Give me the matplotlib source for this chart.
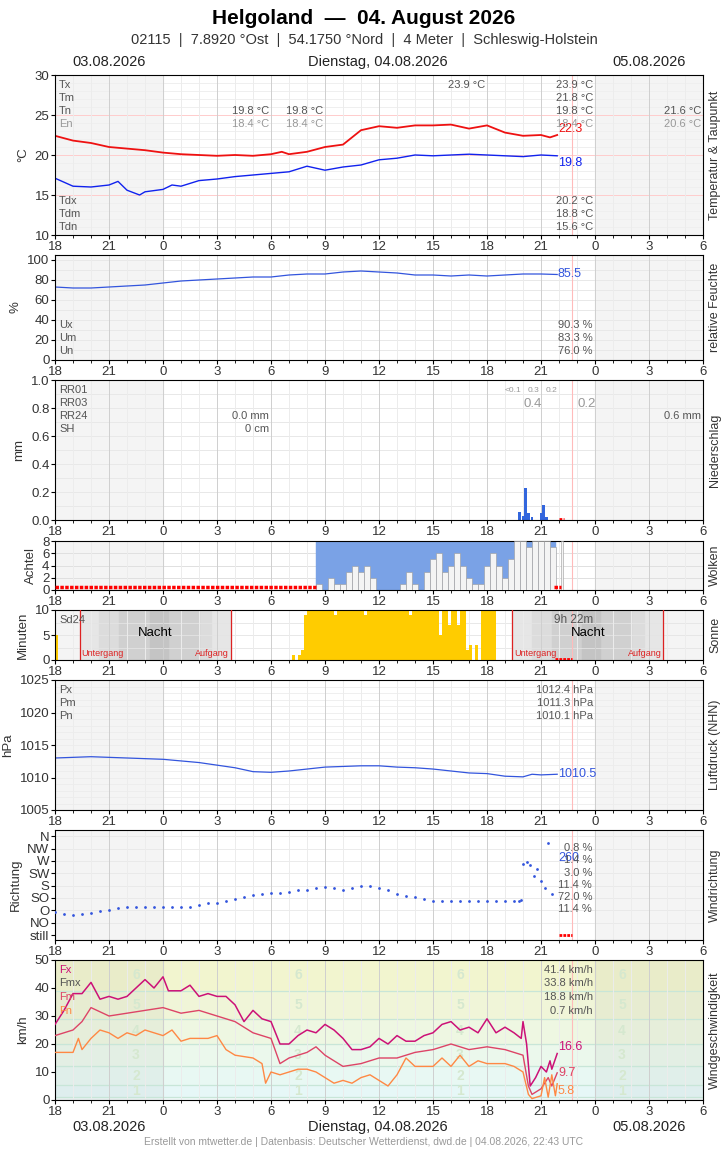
import matplotlib.pyplot as plt
import numpy as np

plt.rcParams['font.family'] = ['Liberation Sans', 'DejaVu Sans']

# x = hours since 03.08. 18:00
temp_h = [0, 1, 2, 3, 4, 5, 6, 7, 8, 9, 10, 11, 12, 12.6, 13, 14, 15, 16, 17, 18, 19, 20, 21, 22, 23, 24, 25, 26, 27, 27.5, 27.9]
temp = [22.4, 21.8, 21.5, 21.0, 20.8, 20.6, 20.3, 20.1, 20.0, 19.9, 20.0, 19.9, 20.1, 20.4, 20.1, 20.4, 21.0, 21.3, 23.1, 23.6, 23.4, 23.7, 23.7, 23.8, 23.3, 23.7, 22.8, 22.4, 22.5, 22.2, 22.5]
dew_h = [0, 1, 2, 3, 3.5, 4, 4.7, 5, 6, 6.5, 7, 8, 9, 10, 11, 12, 13, 14, 15, 16, 17, 18, 19, 20, 21, 22, 23, 24, 25, 26, 27, 27.9]
dew = [17.1, 16.1, 16.0, 16.25, 16.7, 15.6, 15.0, 15.4, 15.7, 16.25, 16.1, 16.8, 17.0, 17.3, 17.5, 17.7, 17.9, 18.6, 18.1, 18.5, 18.75, 19.4, 19.6, 20.0, 19.9, 20.0, 20.1, 20.0, 19.9, 19.8, 20.0, 19.9]

hum_h = [0, 1, 2, 3, 4, 5, 6, 7, 8, 9, 10, 11, 12, 13, 14, 15, 16, 17, 18, 19, 20, 21, 22, 23, 24, 25, 26, 27, 27.9]
hum = [73, 72, 72, 73, 74, 75, 77, 79, 80, 81, 82, 83, 83, 85, 86, 86, 88, 89, 88, 87, 85, 85, 84, 85, 84, 85, 86, 86, 85.5]

rain_h = [25.75, 25.92, 26.08, 26.25, 26.42, 26.92, 27.08, 27.25]
rain = [0.06, 0.03, 0.23, 0.05, 0.02, 0.05, 0.11, 0.02]

cloud_h = list(np.arange(14.5, 27.7, 1 / 3))
cloud_total = [8] * len(cloud_h)
cloud_low = [1, 0, 2, 1, 1, 3, 4, 3, 4, 2, 0, 0, 0, 0, 1, 3, 1, 0, 3, 5, 6, 3, 4, 6, 4, 2, 1, 1, 4, 6, 4, 2, 5, 8, 8, 7, 8, 8, 8, 7][:len(cloud_h)]

sun_h = list(np.arange(13.0, 25.0, 1 / 6))
sun = [0, 1, 0, 1, 2, 9,
       10, 10, 10, 10, 10, 10,
       10, 10, 10, 9, 10, 10,
       10, 10, 10, 10, 10, 10,
       10, 9, 10, 10, 10, 10,
       10, 10, 10, 10, 10, 10,
       10, 10, 10, 10, 9, 10,
       10, 10, 10, 10, 10, 10,
       10, 10, 5, 10, 10, 7,
       10, 10, 7, 10, 10, 2,
       3, 0, 3, 0, 10, 10,
       10, 10, 10, 0, 0, 0]

pres_h = [0, 2, 4, 6, 8, 10, 11, 12, 13, 14, 15, 16, 17, 18, 19, 20, 21, 22, 23, 24, 25, 26, 26.5, 27, 27.9]
pres = [1013.0, 1013.2, 1013.0, 1012.8, 1012.3, 1011.5, 1010.9, 1010.8, 1011.0, 1011.3, 1011.6, 1011.7, 1011.8, 1011.8, 1011.6, 1011.5, 1011.3, 1011.0, 1010.7, 1010.6, 1010.2, 1010.1, 1010.5, 1010.4, 1010.5]

dir_h = list(np.arange(0, 25.6, 0.5)) + [25.8, 25.9, 26.0, 26.2, 26.4, 26.6, 26.8, 27.0, 27.2, 27.4, 27.6]
wdir = [84, 76, 73, 76, 80, 88, 91, 100, 103, 103, 103, 103, 103, 103, 103, 103, 110, 117, 117, 125, 132, 140, 145, 150, 154, 154, 158, 163, 165, 172, 175, 172, 165, 170, 178, 180, 172, 165, 150, 143, 140, 130, 124, 124, 124, 124, 124, 124, 124, 124, 124, 124,
        124, 128, 258, 265, 255, 215, 240, 195, 170, 335, 150]

wind_h = [0, 0.5, 1, 1.5, 2, 2.5, 3, 3.5, 4, 4.5, 5, 5.5, 6, 6.3, 7, 7.5, 8, 8.5, 9, 9.5, 10, 10.5, 11, 11.5, 12, 12.5, 13, 13.5, 14, 14.5, 15, 15.5, 16, 16.5, 17, 17.5, 18, 18.5, 19, 19.5, 20, 20.5, 21, 21.5, 22, 22.5, 23, 23.5, 24, 24.5, 25, 25.5, 25.9, 26.0, 26.2, 26.4, 26.7, 27.0, 27.3, 27.5, 27.6, 27.9]
fx = [27, 32, 38, 38, 42, 36, 37, 36, 37, 40, 43, 40, 44, 39, 39, 41, 37, 38, 37, 37, 34, 28, 32, 29, 28, 20, 20, 23, 25, 24, 27, 25, 22, 18, 18, 19, 22, 20, 23, 21, 21, 23, 24, 27, 28, 25, 26, 24, 29, 24, 26, 24, 22, 28, 20, 5, 8, 12, 10, 14, 11, 16.6]
fm_h = [0, 1, 1.5, 2, 3, 4, 5, 6, 7, 8, 9, 10, 11, 12, 12.5, 13, 14, 14.5, 15, 16, 17, 18, 19, 20, 21, 22, 23, 24, 25, 25.5, 26, 26.3, 26.5, 27, 27.4, 27.6, 27.9]
fm = [23, 25, 28, 33, 30, 31, 32, 33, 31, 32, 30, 28, 24, 22, 13, 15, 17, 19, 16, 12, 13, 15, 15, 17, 18, 20, 18, 19, 18, 17, 16, 5, 2, 4, 8, 5, 9.7]
fn_h = [0, 1, 1.3, 1.5, 2, 2.5, 3, 3.5, 4, 4.5, 5, 5.5, 6, 6.5, 7, 7.5, 8, 8.5, 9, 9.5, 10, 11, 11.5, 11.7, 12, 12.5, 13, 13.5, 14, 14.5, 15, 15.5, 16, 16.5, 17, 17.5, 18, 18.5, 19, 19.5, 20, 21, 21.5, 22, 22.5, 23, 23.5, 24, 25, 25.5, 26, 26.3, 26.5, 27, 27.2, 27.4, 27.6, 27.8, 27.9]
fn = [17, 17, 22, 18, 22, 25, 24, 22, 24, 23, 25, 24, 23, 25, 21, 22, 22, 22, 23, 18, 16, 15, 13, 6, 10, 9, 10, 11, 11, 10, 8, 6, 7, 6, 8, 9, 7, 5, 9, 15, 12, 12, 15, 12, 16, 12, 14, 13, 13, 12, 10, 2, 0.5, 1.5, 8, 1, 9, 1.5, 5.8]

hour_labels = ['18', '21', '0', '3', '6', '9', '12', '15', '18', '21', '0', '3', '6']

W, H = 728, 1150
fig = plt.figure(figsize=(W / 100, H / 100), dpi=100)
GREY = '#555555'
NOW = 28.72


def panel(top, bot, ylim, yticks, yticklabels, ylabel, rlabel, shade=True):
    ax = fig.add_axes([55 / W, 1 - bot / H, 648 / W, (bot - top) / H])
    ax.set_xlim(0, 36)
    ax.set_ylim(*ylim)
    if shade:
        ax.axvspan(0, 6, color='#f4f4f4', zorder=0)
        ax.axvspan(30, 36, color='#f4f4f4', zorder=0)
    for h in range(37):
        ax.axvline(h, color='#cfcfcf' if h % 3 == 0 else '#ececec', lw=0.7, zorder=0.5)
    ax.axvline(NOW, color='#ffbbbb', lw=0.8, zorder=0.6)
    ax.set_xticks(range(0, 37, 3))
    ax.set_xticks(range(37), minor=True)
    ax.set_xticklabels(hour_labels, fontsize=9.5, color='#333')
    ax.set_yticks(yticks)
    ax.set_yticklabels(yticklabels, fontsize=9.5, color='#333')
    ax.tick_params(length=3, pad=1)
    ax.tick_params(which='minor', length=2)
    ax.set_ylabel(ylabel, fontsize=9.5, color='#333', labelpad=4)
    fig.text(715 / W, 1 - (top + bot) / 2 / H, rlabel, rotation=90, ha='center', va='center', fontsize=9, color='#333')
    return ax


def txt(ax, px, py, s, ha='left', color=GREY, size=8):
    fig.text(px / W, 1 - py / H, s, ha=ha, va='center', fontsize=size, color=color)


# title
fig.text(0.5, 1 - 18 / H, 'Helgoland  \u2014  04. August 2026', ha='center', va='center', fontsize=15, weight='bold')
fig.text(0.5, 1 - 40 / H, '02115  |  7.8920 °Ost  |  54.1750 °Nord  |  4 Meter  |  Schleswig-Holstein', ha='center', va='center', fontsize=10.5, color='#333')
for y in (62, 1127):
    txt(None, 109, y, '03.08.2026', 'center', '#222', 10.5)
    txt(None, 378, y, 'Dienstag, 04.08.2026', 'center', '#222', 10.5)
    txt(None, 649, y, '05.08.2026', 'center', '#222', 10.5)
fig.text(0.5, 1 - 1142 / H, 'Erstellt von mtwetter.de | Datenbasis: Deutscher Wetterdienst, dwd.de | 04.08.2026, 22:43 UTC', ha='center', va='center', fontsize=7.5, color='#999')

# temperature
ax = panel(75, 235, (10, 30), [10, 15, 20, 25, 30], ['10', '15', '20', '25', '30'], '°C', 'Temperatur & Taupunkt')
for v in range(11, 30):
    ax.axhline(v, color='#ffcccc' if v % 5 == 0 else '#efefef', lw=0.7, zorder=0.4)
ax.plot(temp_h, temp, color='#ee1111', lw=1.3)
ax.plot(dew_h, dew, color='#1122ee', lw=1.0)
txt(ax, 558, 129, '22.3', color='#ee1111', size=9)
txt(ax, 558, 163, '19.8', color='#1122ee', size=9)
for i, (l, v) in enumerate([('Tx', '23.9 °C'), ('Tm', '21.8 °C'), ('Tn', '19.8 °C'), ('En', '18.4 °C')]):
    txt(ax, 59, 85 + 13 * i, l, color=GREY if l != 'En' else '#999')
    txt(ax, 593, 85 + 13 * i, v, 'right', GREY if l != 'En' else '#999')
for i, (l, v) in enumerate([('Tdx', '20.2 °C'), ('Tdm', '18.8 °C'), ('Tdn', '15.6 °C')]):
    txt(ax, 59, 201 + 13 * i, l)
    txt(ax, 593, 201 + 13 * i, v, 'right')
txt(ax, 485, 85, '23.9 °C', 'right')
for px in (269, 323):
    txt(ax, px, 111, '19.8 °C', 'right')
    txt(ax, px, 124, '18.4 °C', 'right', '#999')
txt(ax, 701, 111, '21.6 °C', 'right')
txt(ax, 701, 124, '20.6 °C', 'right', '#999')

# humidity
ax = panel(255, 360, (0, 105), [0, 20, 40, 60, 80, 100], ['0', '20', '40', '60', '80', '100'], '%', 'relative Feuchte')
for v in range(10, 101, 10):
    ax.axhline(v, color='#e8e8e8', lw=0.7, zorder=0.4)
ax.plot(hum_h, hum, color='#3355dd', lw=0.9)
txt(ax, 558, 274, '85.5', color='#3355dd', size=9)
for i, (l, v) in enumerate([('Ux', '90.3 %'), ('Um', '83.3 %'), ('Un', '76.0 %')]):
    txt(ax, 59, 325 + 13 * i, l)
    txt(ax, 593, 325 + 13 * i, v, 'right')

# precipitation
ax = panel(380, 520, (0, 1.0), [0, 0.2, 0.4, 0.6, 0.8, 1.0], ['0.0', '0.2', '0.4', '0.6', '0.8', '1.0'], 'mm', 'Niederschlag')
for v in np.arange(0.1, 1.0, 0.1):
    ax.axhline(v, color='#e8e8e8', lw=0.7, zorder=0.4)
ax.bar(rain_h, rain, width=1 / 6 * 0.9, align='edge', color='#3366dd', zorder=2)
ax.plot([28.0, 28.3], [0.01, 0.01], color='red', lw=2, ls=(0, (1, 0.5)))
for i, l in enumerate(['RR01', 'RR03', 'RR24', 'SH']):
    txt(ax, 59, 390 + 13 * i, l)
txt(ax, 269, 416, '0.0 mm', 'right')
txt(ax, 269, 429, '0 cm', 'right')
txt(ax, 505, 390, '<0.1', size=6, color='#999')
txt(ax, 528, 390, '0.3', size=6, color='#999')
txt(ax, 546, 390, '0.2', size=6, color='#999')
txt(ax, 523, 404, '0.4', color='#999', size=9.5)
txt(ax, 577, 404, '0.2', color='#999', size=9.5)
txt(ax, 701, 416, '0.6 mm', 'right')

# clouds
ax = panel(541, 590, (0, 8), [0, 2, 4, 6, 8], ['0', '2', '4', '6', '8'], 'Achtel', 'Wolken')
for v in (2, 4, 6):
    ax.axhline(v, color='#e0e0e0', lw=0.7, zorder=0.4)
ax.bar(cloud_h, cloud_total, width=1 / 3, align='edge', color='#7aa2e6', edgecolor='#7aa2e6', lw=0.3, zorder=2)
ax.bar(cloud_h, cloud_low, width=1 / 3, align='edge', color='#f4f4f4', edgecolor='#999', lw=0.4, zorder=3)
ax.bar([28.1], [8], width=0.15, align='edge', color='#f4f4f4', edgecolor='#999', lw=0.4, zorder=3)
ax.plot([0, 14.5], [0.5, 0.5], color='red', lw=2.5, ls=(0, (1, 0.4)), zorder=3)
ax.plot([27.7, 28.1], [0.5, 0.5], color='red', lw=2.5, ls=(0, (1, 0.4)), zorder=3)

# sunshine
ax = panel(610, 660, (0, 10), [0, 5, 10], ['0', '5', '10'], 'Minuten', 'Sonne', shade=False)
ax.axvspan(0, 1.37, color='#f4f4f4', zorder=0)
ax.axvspan(33.8, 36, color='#f4f4f4', zorder=0)
for a, b in ((1.37, 9.78), (25.4, 33.8)):
    ax.axvspan(a, b, color='#e6e6e6', zorder=0.2)
    ax.axvspan(a + 1.1, b - 1.1, color='#dcdcdc', zorder=0.2)
    ax.axvspan(a + 2.2, b - 1.8, color='#d0d0d0', zorder=0.2)
    ax.axvspan(a + 3.9, b - 3.5, color='#c4c4c4', zorder=0.2)
    ax.axvline(a, color='#dd2222', lw=0.9, zorder=3)
    ax.axvline(b, color='#dd2222', lw=0.9, zorder=3)
    ax.text(a + 0.1, 0.5, 'Untergang', color='#dd2222', fontsize=6.5, va='bottom')
    ax.text(b - 0.1, 0.5, 'Aufgang', color='#dd2222', fontsize=6.5, va='bottom', ha='right')
    ax.text((a + b) / 2, 5.3, 'Nacht', fontsize=9.5, ha='center', va='center')
for v in (2.5, 5, 7.5):
    ax.axhline(v, color='#e4e4e4', lw=0.6, zorder=0.4)
ax.bar([0] + sun_h, [5] + sun, width=1 / 6 * 0.85, align='edge', color='#ffcc00', zorder=2)
ax.plot([27.8, 28.7], [0.15, 0.15], color='red', lw=2, ls=(0, (1, 0.4)), zorder=3)
txt(ax, 59, 620, 'Sd24')
txt(ax, 593, 620, '9h 22m', 'right', size=8.5)

# pressure
ax = panel(680, 810, (1005, 1025), [1005, 1010, 1015, 1020, 1025], ['1005', '1010', '1015', '1020', '1025'], 'hPa', 'Luftdruck (NHN)')
for v in range(1006, 1025):
    ax.axhline(v, color='#ececec', lw=0.6, zorder=0.4)
ax.plot(pres_h, pres, color='#3355dd', lw=0.9)
txt(ax, 558, 774, '1010.5', color='#3355dd', size=9)
for i, (l, v) in enumerate([('Px', '1012.4 hPa'), ('Pm', '1011.3 hPa'), ('Pn', '1010.1 hPa')]):
    txt(ax, 59, 690 + 13 * i, l)
    txt(ax, 593, 690 + 13 * i, v, 'right')

# wind direction
dirs = ['still', 'NO', 'O', 'SO', 'S', 'SW', 'W', 'NW', 'N']
ax = panel(830, 940, (-0.4, 8.5), range(9), dirs, 'Richtung', 'Windrichtung')
for v in range(1, 9):
    ax.axhline(v, color='#e8e8e8', lw=0.6, zorder=0.4)
ax.scatter(dir_h, np.array(wdir) / 45, s=4, color='#3355dd', zorder=3, lw=0)
ax.plot([28.0, 28.7], [0, 0], color='red', lw=2, ls=(0, (1, 0.4)), zorder=3)
txt(ax, 558, 858, '260', color='#3355dd', size=9)
for i, v in enumerate(['0.8 %', '1.4 %', '3.0 %', '11.4 %', '72.0 %', '11.4 %']):
    txt(ax, 592, 848 + 12.3 * i, v, 'right')

# wind speed
ax = panel(960, 1100, (0, 50), range(0, 51, 10), [str(v) for v in range(0, 51, 10)], 'km/h', 'Windgeschwindigkeit', shade=False)
bands = [0, 1, 5.5, 12, 20, 29, 39, 50]
band_cols = ['#f2fafa', '#e6f7f7', '#e8f8f3', '#ebf8ec', '#eef7e2', '#f0f5d8', '#f2f5cf']
for i in range(7):
    ax.axhspan(bands[i], bands[i + 1], color=band_cols[i], zorder=0)
    if i > 0:
        ax.axhline(bands[i], color='#c8e6d8', lw=0.9, zorder=0.4)
ax.axvspan(0, 6, color='#888888', alpha=0.08, zorder=0.1)
ax.axvspan(30, 36, color='#888888', alpha=0.08, zorder=0.1)
for xb in (4.5, 13.5, 22.5, 31.5):
    for k in range(1, 7):
        ax.text(xb, (bands[k] + bands[k + 1]) / 2, str(k), ha='center', va='center', fontsize=10, color='#d5e8cf', weight='bold', zorder=0.5)
ax.plot(wind_h, fx, color='#cc1177', lw=1.1, zorder=3)
ax.plot(fm_h, fm, color='#dd4466', lw=1.0, zorder=3)
ax.plot(fn_h, fn, color='#ff8844', lw=1.0, zorder=3)
txt(ax, 558, 1047, '16.6', color='#cc1177', size=9)
txt(ax, 558, 1073, '9.7', color='#dd4466', size=9)
txt(ax, 558, 1091, '5.8', color='#ff8844', size=9)
for i, (l, c, v) in enumerate([('Fx', '#cc1177', '41.4 km/h'), ('Fmx', GREY, '33.8 km/h'), ('Fm', '#dd4466', '18.8 km/h'), ('Fn', '#ff8844', '0.7 km/h')]):
    txt(ax, 59, 970 + 13.5 * i, l, color=c)
    txt(ax, 593, 970 + 13.5 * i, v, 'right')

fig.savefig('out.png', dpi=100)
